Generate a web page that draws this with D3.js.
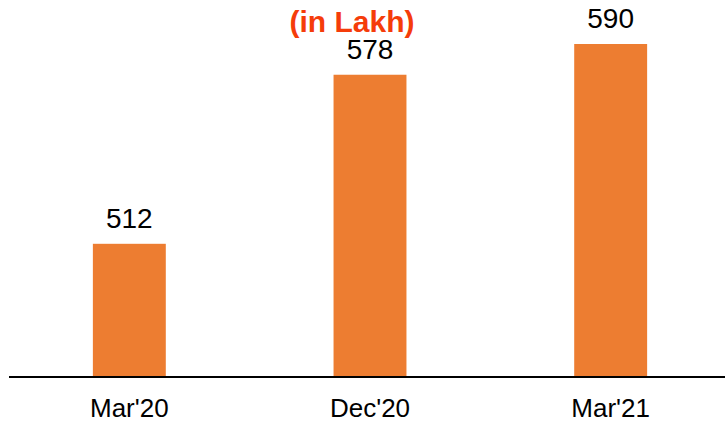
<!DOCTYPE html>
<html>
<head>
<meta charset="utf-8">
<script src="https://cdnjs.cloudflare.com/ajax/libs/d3/7.8.5/d3.min.js"></script>
<style>
  body { margin: 0; background: #fff; }
  #chart { width: 725px; height: 426px; }
  text { font-family: "Liberation Sans", Arial, sans-serif; }
</style>
</head>
<body>
<div id="chart"></div>
<script>
var categories = ["Mar'20", "Dec'20", "Mar'21"];
var values = [512, 578, 590];
var title = "(in Lakh)";

var width = 725, height = 426;
var svg = d3.select("#chart").append("svg")
    .attr("width", width)
    .attr("height", height);

var baseY = 377;

var x = d3.scaleBand()
    .domain(categories)
    .range([9, 731])
    .paddingInner(0.697)
    .paddingOuter(0.3485);

var y = d3.scaleLinear()
    .domain([460, 590])
    .range([baseY, 44]);

var data = categories.map(function(c, i) { return {cat: c, value: values[i]}; });

svg.selectAll(".bar")
    .data(data)
  .enter().append("rect")
    .attr("class", "bar")
    .attr("x", function(d) { return x(d.cat); })
    .attr("y", function(d) { return y(d.value); })
    .attr("width", x.bandwidth())
    .attr("height", function(d) { return baseY - y(d.value); })
    .attr("fill", "#ED7D31");

svg.selectAll(".val")
    .data(data)
  .enter().append("text")
    .attr("class", "val")
    .attr("x", function(d) { return x(d.cat) + x.bandwidth() / 2; })
    .attr("y", function(d) { return y(d.value) - 16; })
    .attr("text-anchor", "middle")
    .style("font-size", "28px")
    .attr("fill", "#000")
    .text(function(d) { return d.value; });

// x axis
var axis = svg.append("g")
    .attr("transform", "translate(0," + baseY + ")")
    .call(d3.axisBottom(x).tickSize(0).tickPadding(22));
axis.select(".domain").remove();
axis.selectAll("text")
    .style("font-size", "26px")
    .attr("fill", "#000")
    .attr("font-family", "Liberation Sans, Arial, sans-serif");

svg.append("line")
    .attr("x1", 9)
    .attr("x2", 725)
    .attr("y1", baseY)
    .attr("y2", baseY)
    .attr("stroke", "#000")
    .attr("stroke-width", 2);

svg.append("text")
    .attr("x", 352)
    .attr("y", 32)
    .attr("text-anchor", "middle")
    .style("font-size", "30px")
    .style("font-weight", "bold")
    .attr("fill", "#F53C0A")
    .text(title);
</script>
</body>
</html>
